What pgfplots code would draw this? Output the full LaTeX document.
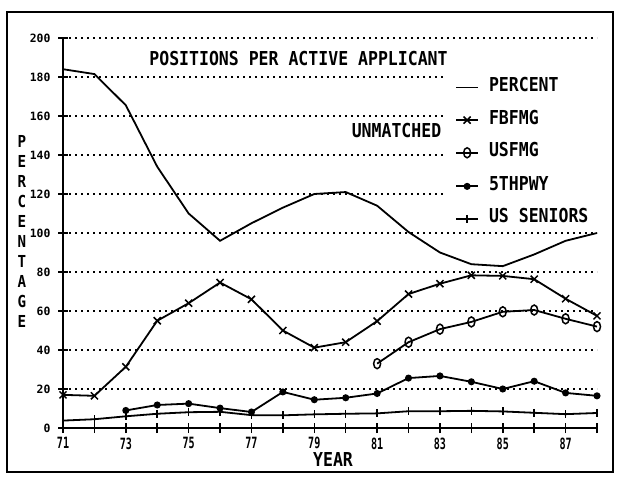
\documentclass[border=0pt]{standalone}
\usepackage{fontspec}
\usepackage{pgfplots}
\pgfplotsset{compat=1.18}
\setmainfont{DejaVu Sans Mono}
\newfontfamily\plotfont[FakeStretch=0.86]{DejaVu Sans Mono}
\newfontfamily\xtickfont[FakeStretch=0.65]{DejaVu Sans Mono}
\newfontfamily\ytickfont{DejaVu Sans Mono}
\newcommand\bigf{\plotfont\bfseries\fontsize{19.2}{20}\selectfont}

\pgfplotstableread{
year pct
71 184
72 181.5
73 165.5
74 134
75 110
76 96
77 105
78 113
79 120
80 121
81 114
82 100.5
83 90
84 84
85 83
86 89
87 96
88 100
}\percent
\pgfplotstableread{
year val
71 17
72 16.5
73 31.4
74 55
75 64
76 74.6
77 66
78 50
79 41.2
80 44
81 54.8
82 68.7
83 74
84 78.3
85 78
86 76.3
87 66.3
88 57.5
}\fbfmg
\pgfplotstableread{
year val
81 33
82 44
83 50.7
84 54.4
85 59.6
86 60.5
87 56
88 52
}\usfmg
\pgfplotstableread{
year val
73 9
74 11.8
75 12.5
76 10.2
77 8.2
78 18.5
79 14.5
80 15.5
81 17.7
82 25.6
83 26.7
84 23.7
85 20
86 24
87 18
88 16.5
}\fifth
\pgfplotstableread{
year val
71 3.8
72 4.5
73 6
74 7.3
75 8.1
76 8.3
77 6.6
78 6.5
79 7
80 7.3
81 7.5
82 8.6
83 8.6
84 8.8
85 8.5
86 7.8
87 7.1
88 7.7
}\usseniors

\begin{document}
\begin{tikzpicture}
\path[use as bounding box] (0pt,0pt) rectangle (617pt,479pt);
\draw[line width=2.2pt] (7pt,7pt) rectangle (613pt,467pt);
\begin{axis}[
  at={(63pt,51pt)}, anchor=south west,
  scale only axis, width=534pt, height=390pt,
  xmin=71, xmax=88, ymin=0, ymax=200,
  axis x line=bottom, axis y line=left,
  axis line style={-, line width=1.8pt},
  xtick={71,...,88},
  xticklabels={71,,73,,75,,77,,79,,81,,83,,85,,87,},
  ytick={0,20,...,200},
  tick align=center, major tick length=10pt,
  tick style={line width=1.5pt, black},
  ymajorgrids,
  major grid style={line width=2pt, dash pattern=on 2pt off 4pt, black},
  /pgf/number format/assume math mode=true,
  xticklabel style={font=\xtickfont\bfseries\fontsize{15.5}{16}\selectfont, yshift=-1pt},
  yticklabel style={font=\ytickfont\bfseries\fontsize{11.4}{12}\selectfont, xshift=-4pt},
  clip=false,
  every axis plot/.append style={line width=1.8pt, black},
  legend cell align=left,
  legend image code/.code={\draw[mark repeat=2,mark phase=2,#1] plot coordinates {(0pt,-3pt) (11pt,-3pt) (22pt,-3pt)};},
  legend style={at={(rel axis cs:0.7154,0.917)}, anchor=north west, draw=none, fill=white,
    inner xsep=10pt, inner ysep=7pt, row sep=18.6pt, column sep=10pt,
    nodes={inner sep=0pt, font=\bigf, text height=14pt, text depth=0pt}},
]
\addplot[no marks] table[x=year,y=pct] {\percent};
\addlegendentry{PERCENT}
\addplot[mark=x, mark size=5pt, mark options={line width=1.5pt}] table[x=year,y=val] {\fbfmg};
\addlegendentry{FBFMG}
\addplot[mark=o, mark size=5pt, mark options={xscale=0.7, line width=1.5pt}] table[x=year,y=val] {\usfmg};
\addlegendentry{USFMG}
\addplot[mark=*, mark size=2.6pt] table[x=year,y=val] {\fifth};
\addlegendentry{5THPWY}
\addplot[mark=|, mark size=4pt, mark options={line width=1.5pt}] table[x=year,y=val] {\usseniors};
\addlegendentry{US SENIORS}
\end{axis}
\node[font=\bigf] at (298.5pt,420pt) {POSITIONS PER ACTIVE APPLICANT};
\node[font=\bigf] at (396.5pt,348pt) {UNMATCHED};
\node[font=\bigf] at (333pt,19.5pt) {YEAR};
\node[font=\plotfont\bfseries\fontsize{16.5}{20}\selectfont, align=center, inner sep=0pt] at (22pt,247.5pt)
  {P\\E\\R\\C\\E\\N\\T\\A\\G\\E};
\end{tikzpicture}
\end{document}
